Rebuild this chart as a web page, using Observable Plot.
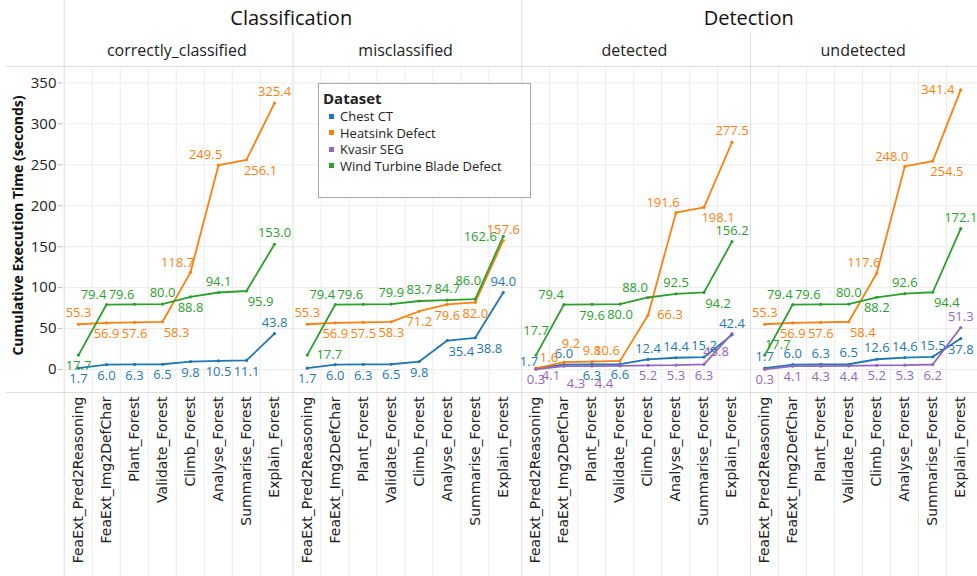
<!DOCTYPE html>
<html>
<head>
<meta charset="utf-8">
<script src="https://cdn.jsdelivr.net/npm/d3@7"></script>
<script src="https://cdn.jsdelivr.net/npm/@observablehq/plot@0.6"></script>
<style>
  body { margin: 0; background: #fff; }
  #wrap { position: relative; width: 977px; height: 576px; overflow: hidden; }
  #legend { position: absolute; left: 318px; top: 83px; width: 213px; height: 115px; box-sizing: border-box;
            border: 1px solid #a8a8a8; background: #fff; font-family: "Open Sans", sans-serif; color: #222; }
  #legend .title { font-weight: bold; font-size: 15px; line-height: 20px; margin: 4px 0 0 4px; }
  #legend .item { font-size: 13px; line-height: 16.5px; height: 16.5px; display: flex; align-items: center; margin-left: 10px; }
  #legend .sw { width: 5px; height: 5px; margin-right: 6px; }
</style>
</head>
<body>
<div id="wrap"></div>
<script>
// ---- categories ----
const steps = ["FeaExt_Pred2Reasoning", "FeaExt_Img2DefChar", "Plant_Forest", "Validate_Forest",
               "Climb_Forest", "Analyse_Forest", "Summarise_Forest", "Explain_Forest"];
const facets = ["correctly_classified", "misclassified", "detected", "undetected"];
const facetGroups = ["Classification", "Classification", "Detection", "Detection"];
const datasets = ["Chest CT", "Heatsink Defect", "Kvasir SEG", "Wind Turbine Blade Defect"];
const colors = ["#1f77b4", "#ff7f0e", "#9467bd", "#2ca02c"];
const yTicks = [0, 50, 100, 150, 200, 250, 300, 350];
const yTitle = "Cumulative Execution Time (seconds)";

// ---- values: correctly_classified ----
const ccChest = [1.7, 6.0, 6.3, 6.5, 9.8, 10.5, 11.1, 43.8];
const ccHeat  = [55.3, 56.9, 57.6, 58.3, 118.7, 249.5, 256.1, 325.4];
const ccWind  = [17.7, 79.4, 79.6, 80.0, 88.8, 94.1, 95.9, 153.0];
// ---- misclassified ----
const mcChest = [1.7, 6.0, 6.3, 6.5, 9.8, 35.4, 38.8, 94.0];
const mcHeat  = [55.3, 56.9, 57.5, 58.3, 71.2, 79.6, 82.0, 157.6];
const mcWind  = [17.7, 79.4, 79.6, 79.9, 83.7, 84.7, 86.0, 162.6];
// ---- detected ----
const dtChest  = [1.7, 6.0, 6.3, 6.6, 12.4, 14.4, 15.2, 42.4];
const dtHeat   = [1.6, 9.2, 9.8, 10.6, 66.3, 191.6, 198.1, 277.5];
const dtKvasir = [0.3, 4.1, 4.3, 4.4, 5.2, 5.3, 6.3, 43.8];
const dtWind   = [17.7, 79.4, 79.6, 80.0, 88.0, 92.5, 94.2, 156.2];
// ---- undetected ----
const udChest  = [1.7, 6.0, 6.3, 6.5, 12.6, 14.6, 15.5, 37.8];
const udHeat   = [55.3, 56.9, 57.6, 58.4, 117.6, 248.0, 254.5, 341.4];
const udKvasir = [0.3, 4.1, 4.3, 4.4, 5.2, 5.3, 6.2, 51.3];
const udWind   = [17.7, 79.4, 79.6, 80.0, 88.2, 92.6, 94.4, 172.1];

// ---- label placement codes ----
const ccChestLab = "b b b b b b b t";
const ccHeatLab  = "t b b br tl tl br t";
const ccWindLab  = "b tl tl t b t br t";
const mcChestLab = "b b b b b br br t";
const mcHeatLab  = "t b b b b b b t";
const mcWindLab  = "r tl tl t t t Tl l";
const dtChestLab  = "ml t b b t t t t";
const dtHeatLab   = "tr Tr t tl r tl br t";
const dtKvasirLab = "b bl Bl Bl b b b Bl";
const dtWindLab   = "T tl b b tl t br t";
const udChestLab  = "t t t t t t t b";
const udHeatLab   = "t b b br tl tl br l";
const udKvasirLab = "b b b b b b b t";
const udWindLab   = "tr tl tl t b t br t";

const series = [
  [facets[0], datasets[0], ccChest, ccChestLab],
  [facets[0], datasets[1], ccHeat, ccHeatLab],
  [facets[0], datasets[3], ccWind, ccWindLab],
  [facets[1], datasets[0], mcChest, mcChestLab],
  [facets[1], datasets[1], mcHeat, mcHeatLab],
  [facets[1], datasets[3], mcWind, mcWindLab],
  [facets[2], datasets[0], dtChest, dtChestLab],
  [facets[2], datasets[1], dtHeat, dtHeatLab],
  [facets[2], datasets[2], dtKvasir, dtKvasirLab],
  [facets[2], datasets[3], dtWind, dtWindLab],
  [facets[3], datasets[0], udChest, udChestLab],
  [facets[3], datasets[1], udHeat, udHeatLab],
  [facets[3], datasets[2], udKvasir, udKvasirLab],
  [facets[3], datasets[3], udWind, udWindLab]
];

const rows = [];
for (const [facet, dataset, values, labs] of series) {
  const codes = labs.split(" ");
  values.forEach((v, i) => rows.push({facet, dataset, step: steps[i], value: v, place: codes[i]}));
}

const offsets = {
  t: [0, -11], T: [0, -24], b: [0, 11],
  tl: [-13, -10], tr: [13, -10], Tl: [-7, -18], Tr: [7, -18], ml: [-7, -6],
  bl: [-13, 10], br: [14, 11], Bl: [-16, 18],
  l: [-23, 0], r: [22, 0]
};

const W = 977, H = 576, mL = 62, mR = 0, mT = 66, mB = 184;
const facetW = (W - mL - mR) / facets.length;
const step = facetW / steps.length;
const yDomain = [-28, 370];
const sepColor = "#dedede", gridColor = "#ebebeb";

const groupStarts = facets.filter((f, i) => i === 0 || facetGroups[i] !== facetGroups[i - 1]);
const groupOthers = facets.filter(f => !groupStarts.includes(f));
const groupHeaders = groupStarts.map(f => ({facet: f, name: facetGroups[facets.indexOf(f)]}));

const fmt = d3.format(".1f");
const labelMarks = Object.entries(offsets).map(([code, [dx, dy]]) =>
  Plot.text(rows.filter(d => d.place === code), {
    x: "step", y: "value", fx: "facet", text: d => fmt(d.value), fill: "dataset",
    dx, dy, fontSize: 13, fontFamily: "Open Sans"
  })
);

const chart = Plot.plot({
  width: W, height: H,
  marginLeft: mL, marginRight: mR, marginTop: mT, marginBottom: mB,
  style: {fontFamily: "Open Sans", background: "white", overflow: "visible"},
  fx: {domain: facets, padding: 0, round: false, axis: null},
  x: {type: "point", domain: steps, padding: 0.5, axis: null},
  y: {domain: yDomain, axis: null},
  color: {domain: datasets, range: colors},
  marks: [
    Plot.gridY(yTicks, {stroke: gridColor, strokeOpacity: 1}),
    Plot.ruleX(steps.slice(1), {x: d => d, dx: -step / 2, stroke: gridColor, insetBottom: -mB}),
    Plot.ruleY([yDomain[1], yDomain[0]], {stroke: sepColor, insetLeft: -56}),
    Plot.ruleX(groupStarts, {fx: d => d, x: () => steps[0], dx: -step / 2, stroke: sepColor, insetTop: -mT, insetBottom: -mB}),
    Plot.ruleX(groupOthers, {fx: d => d, x: () => steps[0], dx: -step / 2, stroke: sepColor, insetTop: -mT / 2, insetBottom: -mB}),
    Plot.axisY(yTicks, {tickSize: 4, tickPadding: 2, fontSize: 15, label: null, stroke: "#bbb", fill: "#222"}),
    Plot.axisX({tickRotate: -90, tickSize: 0, tickPadding: 4, fontSize: 14, fontFamily: "DejaVu Sans", fill: "#222", label: null}),
    Plot.text(facets, {fx: d => d, text: d => d, frameAnchor: "top", lineAnchor: "middle", dy: -16, fontSize: 16, fill: "#222"}),
    Plot.text(groupHeaders, {fx: "facet", text: "name", frameAnchor: "top-right", textAnchor: "middle", lineAnchor: "middle", dy: -48, fontSize: 20, fill: "#111"}),
    Plot.text([facets[0]], {fx: d => d, text: () => yTitle, frameAnchor: "left", textAnchor: "middle", lineAnchor: "middle", rotate: -90, dx: -44, dy: -4, fontWeight: "bold", fontSize: 14, fill: "#111"}),
    Plot.line(rows, {x: "step", y: "value", z: "dataset", stroke: "dataset", fx: "facet", strokeWidth: 1.8}),
    Plot.dot(rows, {x: "step", y: "value", fill: "dataset", fx: "facet", r: 1.6}),
    ...labelMarks
  ]
});

const wrap = document.getElementById("wrap");
wrap.appendChild(chart);

const legend = document.createElement("div");
legend.id = "legend";
legend.innerHTML = `<div class="title">Dataset</div>` +
  datasets.map((d, i) => `<div class="item"><span class="sw" style="background:${colors[i]}"></span>${d}</div>`).join("");
wrap.appendChild(legend);
</script>
</body>
</html>
